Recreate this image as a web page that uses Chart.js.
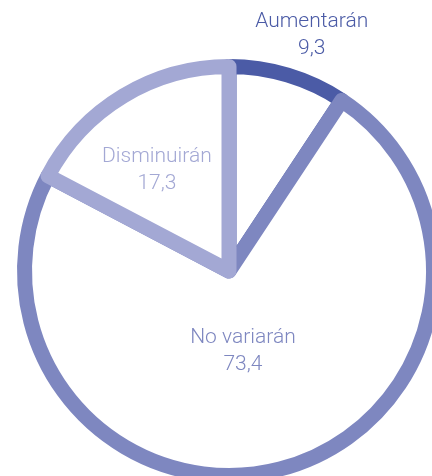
<!DOCTYPE html>
<html>
<head>
<meta charset="utf-8">
<script src="https://cdn.jsdelivr.net/npm/chart.js@4/dist/chart.umd.min.js"></script>
<style>
html, body { margin:0; padding:0; overflow:hidden; background:#ffffff; width:432px; height:476px; }
#wrap { position:absolute; left:0; top:0; width:460px; height:500px; }
</style>
</head>
<body>
<div id="wrap"><canvas id="c"></canvas></div>
<script>
const categories = ["Aumentarán", "No variarán", "Disminuirán"];
const values = [9.3, 73.4, 17.3];
const valueLabels = ["9,3", "73,4", "17,3"];
const colors = ["#4b5ba6", "#7e87c0", "#a3a8d4"];

// label placement relative to each slice (angle offset in degrees, radius factor)
const labelPlacement = [
  { dAngle: 3.0, r: 1.197 },
  { dAngle: 5.2, r: 0.426 },
  { dAngle: -6.0, r: 0.584 }
];

const labelPlugin = {
  id: 'sliceLabels',
  afterDatasetsDraw(chart) {
    const ctx = chart.ctx;
    const meta = chart.getDatasetMeta(0);
    const lh = 27;
    ctx.save();
    ctx.font = '300 21px Roboto, "Liberation Sans", Arial, sans-serif';
    ctx.textAlign = 'center';
    ctx.textBaseline = 'alphabetic';
    meta.data.forEach((arc, i) => {
      const p = arc.getProps(['x', 'y', 'startAngle', 'endAngle', 'outerRadius'], true);
      const mid = (p.startAngle + p.endAngle) / 2 + labelPlacement[i].dAngle * Math.PI / 180;
      const rr = p.outerRadius * labelPlacement[i].r;
      const cx = p.x + Math.cos(mid) * rr;
      const cy = p.y + Math.sin(mid) * rr;
      ctx.fillStyle = colors[i];
      ctx.fillText(categories[i], cx, cy - lh / 2);
      ctx.fillText(valueLabels[i], cx, cy + lh / 2);
    });
    ctx.restore();
  }
};

new Chart(document.getElementById('c'), {
  type: 'pie',
  data: {
    labels: categories,
    datasets: [{
      data: values,
      backgroundColor: '#ffffff',
      borderColor: colors,
      borderWidth: 15,
      borderJoinStyle: 'round',
      hoverOffset: 0
    }]
  },
  options: {
    responsive: true,
    maintainAspectRatio: false,
    animation: false,
    devicePixelRatio: 1,
    events: [],
    layout: { padding: { left: 17, top: 59, right: 19, bottom: 17 } },
    plugins: {
      legend: { display: false },
      tooltip: { enabled: false }
    }
  },
  plugins: [labelPlugin]
});
</script>
</body>
</html>
